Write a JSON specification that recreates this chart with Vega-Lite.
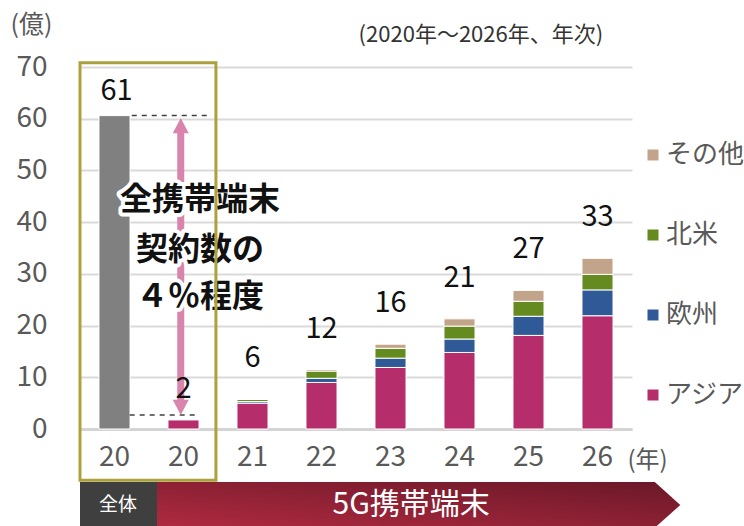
{
  "$schema": "https://vega.github.io/schema/vega-lite/v6.json",
  "width": 552,
  "height": 362,
  "autosize": {"type": "none"},
  "padding": {"left": 80, "top": 67, "right": 112, "bottom": 97},
  "background": "white",
  "config": {
    "font": "Noto Sans CJK JP",
    "view": {"stroke": null},
    "legend": {"padding": 0}
  },
  "datasets": {
    "bars": [
      {"cat": "20a", "region": "全体", "value": 60.6},
      {"cat": "20b", "region": "アジア", "value": 1.75},
      {"cat": "21", "region": "アジア", "value": 5.0},
      {"cat": "21", "region": "欧州", "value": 0.3},
      {"cat": "21", "region": "北米", "value": 0.4},
      {"cat": "21", "region": "その他", "value": 0.1},
      {"cat": "22", "region": "アジア", "value": 9.0},
      {"cat": "22", "region": "欧州", "value": 0.8},
      {"cat": "22", "region": "北米", "value": 1.4},
      {"cat": "22", "region": "その他", "value": 0.3},
      {"cat": "23", "region": "アジア", "value": 11.9},
      {"cat": "23", "region": "欧州", "value": 1.8},
      {"cat": "23", "region": "北米", "value": 1.9},
      {"cat": "23", "region": "その他", "value": 0.8},
      {"cat": "24", "region": "アジア", "value": 14.8},
      {"cat": "24", "region": "欧州", "value": 2.6},
      {"cat": "24", "region": "北米", "value": 2.5},
      {"cat": "24", "region": "その他", "value": 1.4},
      {"cat": "25", "region": "アジア", "value": 18.1},
      {"cat": "25", "region": "欧州", "value": 3.7},
      {"cat": "25", "region": "北米", "value": 2.9},
      {"cat": "25", "region": "その他", "value": 2.1},
      {"cat": "26", "region": "アジア", "value": 21.9},
      {"cat": "26", "region": "欧州", "value": 5.0},
      {"cat": "26", "region": "北米", "value": 3.0},
      {"cat": "26", "region": "その他", "value": 3.1}
    ],
    "totals": [
      {"cat": "20a", "total": 60.6, "label": "61"},
      {"cat": "20b", "total": 1.75, "label": "2"},
      {"cat": "21", "total": 5.8, "label": "6"},
      {"cat": "22", "total": 11.5, "label": "12"},
      {"cat": "23", "total": 16.4, "label": "16"},
      {"cat": "24", "total": 21.3, "label": "21"},
      {"cat": "25", "total": 26.8, "label": "27"},
      {"cat": "26", "total": 33.0, "label": "33"}
    ],
    "box": [{"x": 0, "x2": 1.97, "y": 70.8, "y2": -9.9}],
    "dash": [
      {"x": 0.75, "x2": 1.86, "y": 60.6},
      {"x": 0.72, "x2": 1.67, "y": 2.7}
    ],
    "shaft": [{"x": 1.46, "y": 57.5, "y2": 5.5}],
    "heads": [
      {"x": 1.46, "y": 58.6, "dir": "up"},
      {"x": 1.46, "y": 4.25, "dir": "down"}
    ],
    "note": [
      {"x": 1.74, "y": 44.3, "text": "全携帯端末"},
      {"x": 1.74, "y": 34.6, "text": "契約数の"},
      {"x": 1.74, "y": 25.5, "text": "４％程度"}
    ],
    "subtitle": [{"x": 5.81, "y": 76.2, "text": "(2020年～2026年、年次)"}],
    "grayBox": [{"x": 0, "x2": 1.116, "y": -10.25, "y2": -19.1}],
    "banner": [
      {"x": 1.116, "y": -10.25, "y2": -19.1},
      {"x": 8.33, "y": -10.25, "y2": -19.1},
      {"x": 8.70, "y": -14.7, "y2": -14.7}
    ],
    "grayText": [{"x": 0.55, "y": -14.7, "text": "全体"}],
    "bannerText": [{"x": 4.8, "y": -14.7, "text": "5G携帯端末"}]
  },
  "layer": [
    {
      "data": {"name": "bars"},
      "transform": [
        {"calculate": "indexof(['全体','アジア','欧州','北米','その他'], datum.region)", "as": "ord"}
      ],
      "mark": {"type": "bar", "width": {"band": 0.45}, "stroke": "white", "strokeWidth": 1},
      "encoding": {
        "x": {
          "field": "cat", "type": "nominal",
          "scale": {"domain": ["20a", "20b", "21", "22", "23", "24", "25", "26"], "paddingInner": 0, "paddingOuter": 0},
          "axis": {
            "labelExpr": "slice(datum.value, 0, 2)",
            "labelAngle": 0,
            "labelFontSize": 28,
            "labelColor": "#595959",
            "labelPadding": 14,
            "ticks": false,
            "domainColor": "#d4d4d4",
            "domainWidth": 3,
            "title": "(年)",
            "titleFontSize": 24,
            "titleFontWeight": "normal",
            "titleColor": "#595959",
            "titleAngle": 0,
            "titleAlign": "left",
            "titleBaseline": "middle",
            "titleX": 547,
            "titleY": 31
          }
        },
        "y": {
          "field": "value", "type": "quantitative",
          "scale": {"domain": [0, 70], "nice": false},
          "axis": {
            "values": [0, 10, 20, 30, 40, 50, 60, 70],
            "labelFontSize": 28,
            "labelColor": "#595959",
            "labelPadding": 33,
            "ticks": false,
            "domain": false,
            "gridColor": "#dadada",
            "gridWidth": 2,
            "title": "(億)",
            "titleFontSize": 25,
            "titleFontWeight": "normal",
            "titleColor": "#595959",
            "titleAngle": 0,
            "titleAlign": "left",
            "titleBaseline": "middle",
            "titleX": -70,
            "titleY": -43
          }
        },
        "color": {
          "field": "region", "type": "nominal",
          "scale": {
            "domain": ["全体", "アジア", "欧州", "北米", "その他"],
            "range": ["#808080", "#b52e6b", "#2f5a97", "#658a1f", "#c1a48a"]
          },
          "legend": {
            "values": ["その他", "北米", "欧州", "アジア"],
            "title": null,
            "orient": "none",
            "legendX": 560,
            "legendY": 75,
            "symbolType": "square",
            "symbolSize": 121,
            "symbolStrokeWidth": 0,
            "labelFontSize": 26,
            "labelColor": "#595959",
            "labelOffset": 0,
            "rowPadding": 54
          }
        },
        "order": {"field": "ord", "type": "quantitative"}
      }
    },
    {
      "data": {"name": "dash"},
      "mark": {"type": "rule", "strokeDash": [5, 5], "color": "#404040", "strokeWidth": 1.5},
      "encoding": {
        "x": {"field": "x", "type": "quantitative", "scale": {"domain": [0, 8], "nice": false, "zero": false}, "axis": null},
        "x2": {"field": "x2"},
        "y": {"field": "y", "type": "quantitative", "scale": {"domain": [0, 70], "nice": false}}
      }
    },
    {
      "data": {"name": "shaft"},
      "mark": {"type": "rule", "color": "#d884ac", "strokeWidth": 7},
      "encoding": {
        "x": {"field": "x", "type": "quantitative", "scale": {"domain": [0, 8], "nice": false, "zero": false}, "axis": null},
        "y": {"field": "y", "type": "quantitative", "scale": {"domain": [0, 70], "nice": false}},
        "y2": {"field": "y2"}
      }
    },
    {
      "data": {"name": "heads"},
      "mark": {"type": "point", "filled": true, "opacity": 1, "color": "#d884ac", "size": 256, "strokeWidth": 0},
      "encoding": {
        "x": {"field": "x", "type": "quantitative", "scale": {"domain": [0, 8], "nice": false, "zero": false}, "axis": null},
        "y": {"field": "y", "type": "quantitative", "scale": {"domain": [0, 70], "nice": false}},
        "shape": {
          "field": "dir", "type": "nominal",
          "scale": {"domain": ["up", "down"], "range": ["M-1,0.9L1,0.9L0,-1Z", "M-1,-0.9L1,-0.9L0,1Z"]},
          "legend": null
        }
      }
    },
    {
      "data": {"name": "note"},
      "mark": {"type": "text", "fontSize": 32, "fontWeight": "bold", "fill": "white", "stroke": "white", "strokeWidth": 8, "strokeJoin": "round", "baseline": "middle", "align": "center"},
      "encoding": {
        "x": {"field": "x", "type": "quantitative", "scale": {"domain": [0, 8], "nice": false, "zero": false}, "axis": null},
        "y": {"field": "y", "type": "quantitative", "scale": {"domain": [0, 70], "nice": false}},
        "text": {"field": "text"}
      }
    },
    {
      "data": {"name": "note"},
      "mark": {"type": "text", "fontSize": 32, "fontWeight": "bold", "color": "#111111", "baseline": "middle", "align": "center"},
      "encoding": {
        "x": {"field": "x", "type": "quantitative", "scale": {"domain": [0, 8], "nice": false, "zero": false}, "axis": null},
        "y": {"field": "y", "type": "quantitative", "scale": {"domain": [0, 70], "nice": false}},
        "text": {"field": "text"}
      }
    },
    {
      "data": {"name": "box"},
      "mark": {"type": "rect", "fill": null, "fillOpacity": 0, "stroke": "#aca13c", "strokeWidth": 3},
      "encoding": {
        "x": {"field": "x", "type": "quantitative", "scale": {"domain": [0, 8], "nice": false, "zero": false}, "axis": null},
        "x2": {"field": "x2"},
        "y": {"field": "y", "type": "quantitative", "scale": {"domain": [0, 70], "nice": false}},
        "y2": {"field": "y2"}
      }
    },
    {
      "data": {"name": "totals"},
      "transform": [{"filter": "datum.cat != '20a' && datum.cat != '20b'"}],
      "mark": {"type": "text", "fontSize": 29, "color": "#111111", "baseline": "middle", "dy": -41},
      "encoding": {
        "x": {"field": "cat", "type": "nominal", "scale": {"domain": ["20a", "20b", "21", "22", "23", "24", "25", "26"], "paddingInner": 0, "paddingOuter": 0}, "axis": null},
        "y": {"field": "total", "type": "quantitative", "scale": {"domain": [0, 70], "nice": false}},
        "text": {"field": "label"}
      }
    },
    {
      "data": {"name": "totals"},
      "transform": [{"filter": "datum.cat == '20a'"}],
      "mark": {"type": "text", "fontSize": 29, "color": "#111111", "baseline": "middle", "dy": -25, "dx": 2},
      "encoding": {
        "x": {"field": "cat", "type": "nominal", "scale": {"domain": ["20a", "20b", "21", "22", "23", "24", "25", "26"], "paddingInner": 0, "paddingOuter": 0}, "axis": null},
        "y": {"field": "total", "type": "quantitative", "scale": {"domain": [0, 70], "nice": false}},
        "text": {"field": "label"}
      }
    },
    {
      "data": {"name": "totals"},
      "transform": [{"filter": "datum.cat == '20b'"}],
      "mark": {"type": "text", "fontSize": 29, "color": "#111111", "baseline": "middle", "dy": -31},
      "encoding": {
        "x": {"field": "cat", "type": "nominal", "scale": {"domain": ["20a", "20b", "21", "22", "23", "24", "25", "26"], "paddingInner": 0, "paddingOuter": 0}, "axis": null},
        "y": {"field": "total", "type": "quantitative", "scale": {"domain": [0, 70], "nice": false}},
        "text": {"field": "label"}
      }
    },
    {
      "data": {"name": "subtitle"},
      "mark": {"type": "text", "fontSize": 22, "color": "#333333", "baseline": "middle", "align": "center"},
      "encoding": {
        "x": {"field": "x", "type": "quantitative", "scale": {"domain": [0, 8], "nice": false, "zero": false}, "axis": null},
        "y": {"field": "y", "type": "quantitative", "scale": {"domain": [0, 70], "nice": false}},
        "text": {"field": "text"}
      }
    },
    {
      "data": {"name": "grayBox"},
      "mark": {"type": "rect", "color": "#3f3f3f"},
      "encoding": {
        "x": {"field": "x", "type": "quantitative", "scale": {"domain": [0, 8], "nice": false, "zero": false}, "axis": null},
        "x2": {"field": "x2"},
        "y": {"field": "y", "type": "quantitative", "scale": {"domain": [0, 70], "nice": false}},
        "y2": {"field": "y2"}
      }
    },
    {
      "data": {"name": "banner"},
      "mark": {
        "type": "area",
        "color": {
          "gradient": "linear", "x1": 0, "y1": 1, "x2": 1, "y2": 0,
          "stops": [{"offset": 0, "color": "#b02a40"}, {"offset": 1, "color": "#6a1828"}]
        }
      },
      "encoding": {
        "x": {"field": "x", "type": "quantitative", "scale": {"domain": [0, 8], "nice": false, "zero": false}, "axis": null},
        "y": {"field": "y", "type": "quantitative", "scale": {"domain": [0, 70], "nice": false}},
        "y2": {"field": "y2"}
      }
    },
    {
      "data": {"name": "grayText"},
      "mark": {"type": "text", "fontSize": 19, "color": "white", "baseline": "middle", "align": "center"},
      "encoding": {
        "x": {"field": "x", "type": "quantitative", "scale": {"domain": [0, 8], "nice": false, "zero": false}, "axis": null},
        "y": {"field": "y", "type": "quantitative", "scale": {"domain": [0, 70], "nice": false}},
        "text": {"field": "text"}
      }
    },
    {
      "data": {"name": "bannerText"},
      "mark": {"type": "text", "fontSize": 30, "color": "white", "baseline": "middle", "align": "center"},
      "encoding": {
        "x": {"field": "x", "type": "quantitative", "scale": {"domain": [0, 8], "nice": false, "zero": false}, "axis": null},
        "y": {"field": "y", "type": "quantitative", "scale": {"domain": [0, 70], "nice": false}},
        "text": {"field": "text"}
      }
    }
  ],
  "resolve": {"scale": {"x": "independent"}}
}
